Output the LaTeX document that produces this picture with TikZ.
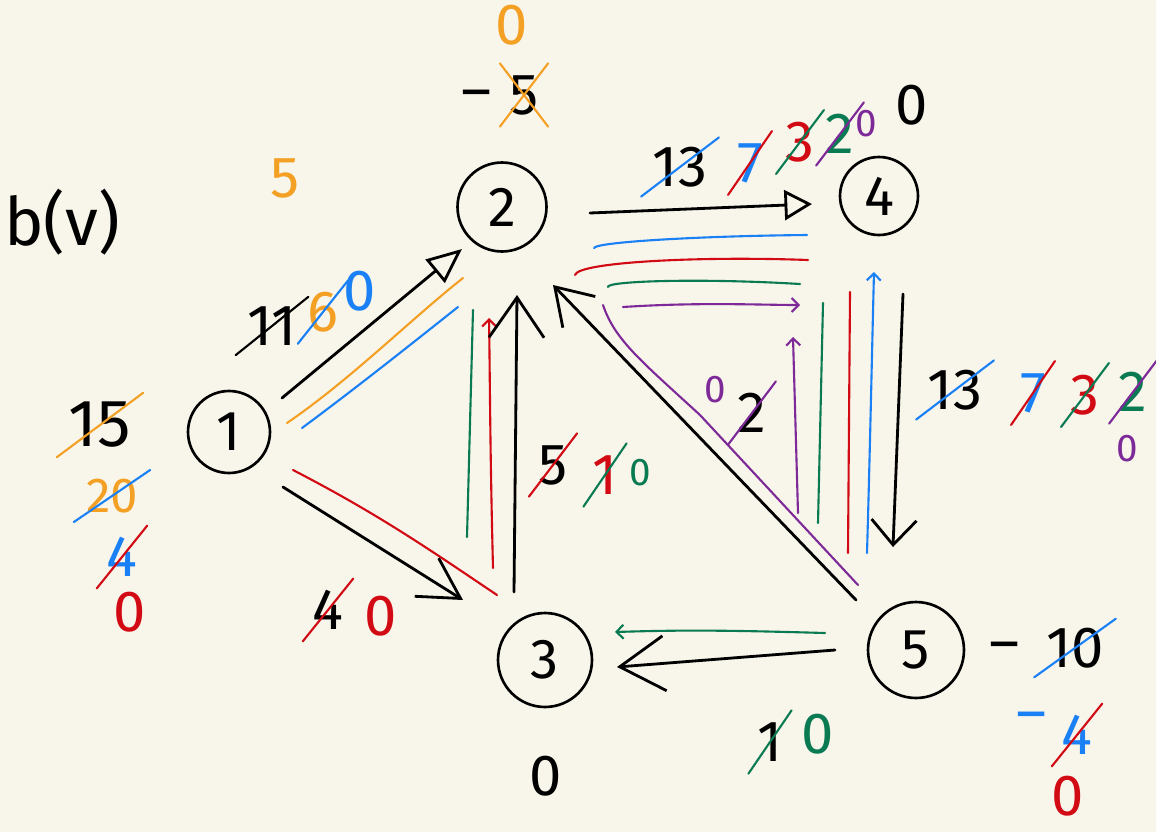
\documentclass[tikz,border=0pt]{standalone}
\usepackage{fontspec}
\setmainfont{Fira Sans}
\usepackage{tikz}
\usetikzlibrary{arrows.meta, calc}

\definecolor{paper}{HTML}{F8F5EA}
\definecolor{fo}{HTML}{F4A025}
\definecolor{fb}{HTML}{1A80F5}
\definecolor{fr}{HTML}{D10A14}
\definecolor{fg}{HTML}{0A7A52}
\definecolor{fp}{HTML}{7D2A98}

\begin{document}
\begin{tikzpicture}[x=0.02cm, y=-0.02cm, line cap=round, line join=round,
    vtx/.style={circle, draw, line width=1.5pt, inner sep=0pt, font=\fontsize{32}{32}\selectfont},
    edge/.style={line width=1.6pt, black},
    flow/.style={line width=1.2pt},
    tinytip/.style={-{Straight Barb[length=1.4mm, width=2.8mm]}},
    num/.style={inner sep=1pt, font=\fontsize{33}{33}\selectfont},
    sml/.style={inner sep=1pt, font=\fontsize{22}{22}\selectfont},
    strk/.style={line width=1.2pt, shorten <=-7pt, shorten >=-7pt}]
    \path[use as bounding box, fill=paper] (0,0) rectangle (1156,832);

    % vertices
    \foreach \n/\x/\y/\d in {1/229/432/1.64, 2/502/207/1.78, 3/545/660/1.88, 4/879/196/1.56, 5/916/650/1.92}
      \node[vtx, minimum size=\d cm] (v\n) at (\x,\y) {\n};

    % flow traces
    \draw[flow, fo] (287,423) .. controls (350,380) and (410,320) .. (463,278);
    \draw[flow, fb] (302,428) .. controls (360,385) and (410,345) .. (458,307);
    \draw[flow, fb] (594,248) .. controls (596,242) and (700,236) .. (807,235);
    \draw[flow, fr] (575,275) .. controls (578,262) and (700,256) .. (808,260);
    \draw[flow, fg] (608,287) .. controls (606,281) and (700,278) .. (800,284);
    \draw[flow, fp, tinytip] (623,307) .. controls (700,302) and (760,305) .. (800,305);
    \draw[flow, fp] (603,305) .. controls (615,340) and (640,360) .. (700,415) -- (858,585);
    \draw[flow, fp, tinytip] (798,513) -- (793,337);
    \draw[flow, fg] (818,523) -- (823,303);
    \draw[flow, fr] (848,553) -- (850,292);
    \draw[flow, fb, tinytip] (867,553) .. controls (870,450) and (872,350) .. (874,272);
    \draw[flow, fg] (467,537) -- (473,310);
    \draw[flow, fr, tinytip] (493,568) .. controls (490,450) and (490,380) .. (489,318);
    \draw[flow, fr] (293,470) .. controls (380,515) and (430,550) .. (497,595);
    \draw[flow, fg, tinytip] (825,633) .. controls (720,630) and (680,630) .. (615,632);

    % edges
    \draw[edge, -{Triangle[open, length=7mm, width=6mm]}] ($(v1)+(53,-34)$) -- ($(v2)+(-40,42)$);
    \draw[edge, -{Triangle[open, length=5.5mm, width=6mm]}] ($(v2)+(88,6)$) -- ($(v4)+(-67,8)$);
    \draw[edge, -{Straight Barb[length=8mm, width=11mm]}] ($(v3)+(-31,-68)$) -- ($(v2)+(15,88)$);
    \draw[edge, -{Straight Barb[length=7mm, width=9mm]}] ($(v5)+(-60,-50)$) -- ($(v2)+(51,78)$);
    \draw[edge, -{Straight Barb[length=9mm, width=11mm]}] ($(v5)+(-81,0)$) -- ($(v3)+(72,7)$);
    \draw[edge, -{Straight Barb[length=5mm, width=9mm]}] ($(v4)+(24,98)$) -- ($(v5)+(-23,-103)$);
    \draw[edge, -{Straight Barb[length=8mm, width=9mm]}] ($(v1)+(54,55)$) -- ($(v3)+(-82,-60)$);

    % supplies b(v)
    \node[font=\fontsize{38}{38}\selectfont] (bv) at (62,222) {b(v)};
    \node[num, fo] (aug) at (285,178) {5};
    \node[num, font=\fontsize{38}{38}\selectfont] (b1a) at (100,425) {15};
    \node[num, fo, font=\fontsize{28}{28}\selectfont] (b1b) at (112,496) {20};
    \node[num, fb] (b1c) at (122,557) {4};
    \node[num, fr] (b1d) at (130,612) {0};
    \node[num] (b2m) at (477,100) {--};
    \node[num] (b2a) at (524,95) {5};
    \node[num, fo] (b2b) at (512,25) {0};
    \node[num] (b3) at (546,776) {0};
    \node[num] (b4) at (912,105) {0};
    \node[num] (b5m) at (1005,652) {--};
    \node[num] (b5a) at (1075,648) {10};
    \node[num, fb] (b5n) at (1032,722) {--};
    \node[num, fb] (b5b) at (1077,735) {4};
    \node[num, fr] (b5c) at (1068,796) {0};

    % edge capacities
    \node[num] (e12a) at (272,326) {11};
    \node[num, fo] (e12b) at (323,312) {6};
    \node[num, fb] (e12c) at (360,291) {0};
    \node[num] (e24a) at (680,167) {13};
    \node[num, fb] (e24b) at (750,163) {7};
    \node[num, fr] (e24c) at (800,142) {3};
    \node[num, fg] (e24d) at (840,134) {2};
    \node[sml, fp] (e24e) at (866,124) {0};
    \node[num] (e45a) at (955,390) {13};
    \node[num, fb] (e45b) at (1033,393) {7};
    \node[num, fr] (e45c) at (1085,395) {3};
    \node[num, fg] (e45d) at (1133,392) {2};
    \node[sml, fp] (e45e) at (1127,449) {0};
    \node[sml, fp] (e52a) at (715,390) {0};
    \node[num] (e52b) at (752,413) {2};
    \node[num] (e32a) at (553,465) {5};
    \node[num, fr] (e32b) at (605,475) {1};
    \node[sml, fg] (e32c) at (640,473) {0};
    \node[num] (e13a) at (328,610) {4};
    \node[num, fr] (e13b) at (381,616) {0};
    \node[num] (e53a) at (770,742) {1};
    \node[num, fg] (e53b) at (818,734) {0};

    % crossed out values
    \foreach \l/\c in {b1a/fo, b1b/fb, b1c/fr, b2a/fo, b5a/fb, b5b/fr, e12a/black, e12b/fb,
        e24a/fb, e24b/fr, e24c/fg, e24d/fp, e45a/fb, e45b/fr, e45c/fg, e45d/fp,
        e52b/fp, e32a/fr, e32b/fg, e13a/fr, e53a/fg}
      \draw[strk, \c] (\l.south west) -- (\l.north east);
    \draw[strk, fo] (b2a.north west) -- (b2a.south east);
  \end{tikzpicture}
\end{document}
